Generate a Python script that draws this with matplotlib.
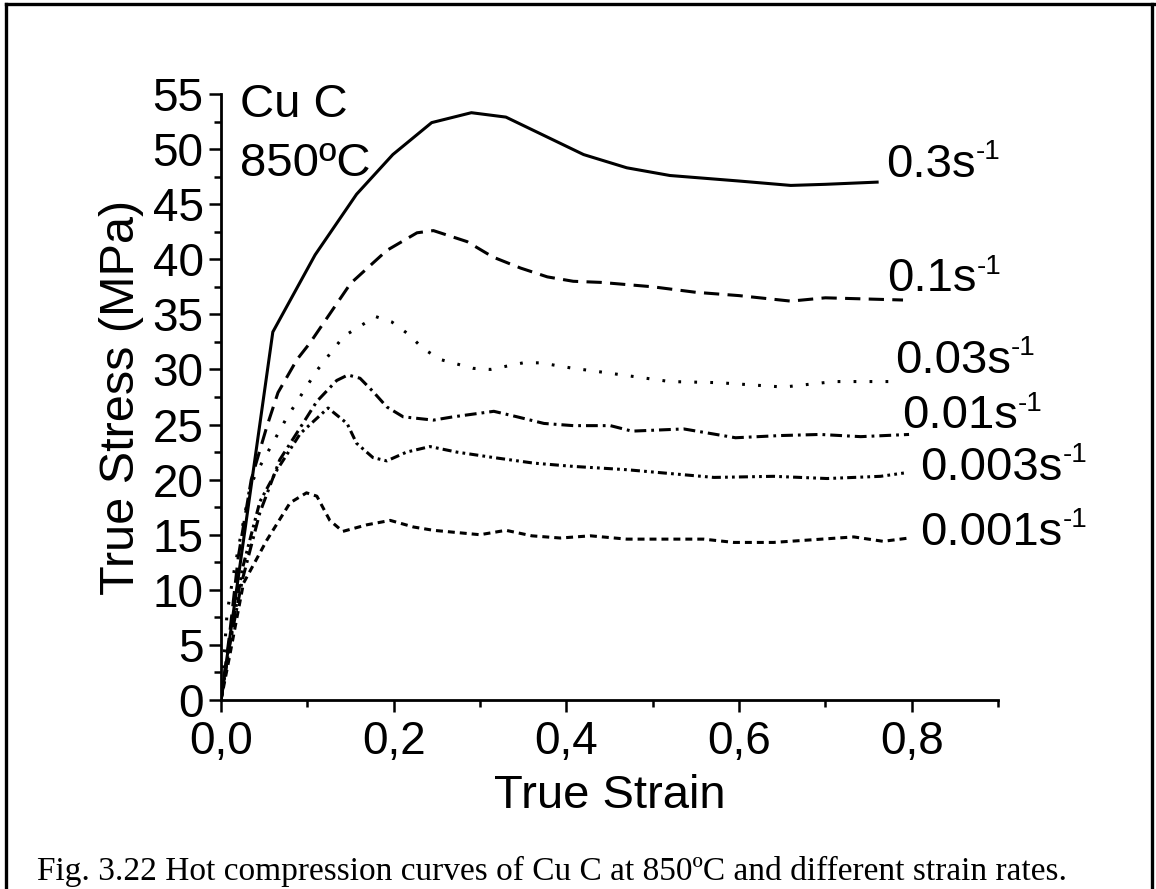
import matplotlib
matplotlib.use('Agg')
import matplotlib.pyplot as plt
from matplotlib.lines import Line2D
from matplotlib.ticker import FixedLocator, MultipleLocator, FuncFormatter

plt.rcParams['font.family'] = ['Liberation Sans', 'DejaVu Sans']
plt.rcParams['lines.scale_dashes'] = False

# strain / stress (MPa)
strain_03 = [0, 0.06, 0.109, 0.157, 0.199, 0.244, 0.29, 0.33, 0.42, 0.47, 0.52, 0.6, 0.66, 0.7, 0.76]
stress_03 = [0, 33.4, 40.4, 45.9, 49.5, 52.4, 53.3, 52.9, 49.5, 48.3, 47.6, 47.1, 46.7, 46.8, 47.0]

strain_01 = [0, 0.01, 0.02, 0.035, 0.053, 0.066, 0.088, 0.103, 0.15, 0.192, 0.227, 0.246, 0.285,
             0.315, 0.347, 0.378, 0.408, 0.44, 0.5, 0.55, 0.6, 0.66, 0.7, 0.79]
stress_01 = [0, 6, 13, 20, 24.8, 27.9, 30.9, 32.4, 37.8, 40.8, 42.4, 42.6, 41.6,
             40.2, 39.2, 38.4, 38.0, 37.9, 37.5, 37.0, 36.7, 36.2, 36.5, 36.3]

strain_003 = [0, 0.007, 0.016, 0.034, 0.045, 0.076, 0.111, 0.142, 0.179, 0.198, 0.217, 0.234, 0.254,
              0.292, 0.312, 0.35, 0.37, 0.408, 0.428, 0.52, 0.576, 0.652, 0.71, 0.787]
stress_003 = [0, 7.9, 12.1, 19.5, 21.2, 25.6, 29.9, 33.0, 34.8, 34.3, 33.2, 31.9, 30.9,
              30.1, 30.0, 30.6, 30.6, 30.1, 29.9, 28.9, 28.8, 28.4, 28.9, 28.9]

strain_001 = [0, 0.01, 0.025, 0.045, 0.068, 0.09, 0.111, 0.134, 0.147, 0.161, 0.176, 0.192, 0.211,
              0.246, 0.269, 0.316, 0.343, 0.374, 0.408, 0.451, 0.476, 0.536, 0.596, 0.648, 0.694,
              0.741, 0.797]
stress_001 = [0, 5, 11, 17, 21.8, 24.5, 27.1, 29.0, 29.5, 29.2, 28.0, 26.6, 25.7,
              25.4, 25.7, 26.2, 25.7, 25.1, 24.9, 24.9, 24.4, 24.6, 23.8, 24.0, 24.1,
              23.9, 24.1]

strain_0003 = [0, 0.01, 0.025, 0.045, 0.065, 0.092, 0.124, 0.146, 0.157, 0.176, 0.192, 0.215, 0.242,
               0.273, 0.316, 0.362, 0.408, 0.47, 0.571, 0.64, 0.702, 0.764, 0.791]
stress_0003 = [0, 5, 12, 18, 20.9, 24.2, 26.5, 25.1, 23.3, 22.0, 21.7, 22.5, 23.0,
               22.5, 22.0, 21.5, 21.2, 20.9, 20.2, 20.3, 20.1, 20.3, 20.6]

strain_0001 = [0, 0.01, 0.026, 0.053, 0.08, 0.099, 0.111, 0.126, 0.141, 0.169, 0.196, 0.223, 0.246,
               0.3, 0.33, 0.36, 0.393, 0.428, 0.47, 0.559, 0.594, 0.64, 0.733, 0.767, 0.797]
stress_0001 = [0, 4, 10.6, 14.5, 17.9, 18.8, 18.5, 16.3, 15.3, 15.9, 16.3, 15.7, 15.4,
               15.0, 15.4, 14.9, 14.7, 14.9, 14.6, 14.6, 14.3, 14.3, 14.8, 14.4, 14.7]

rate_labels = ['0.3', '0.1', '0.03', '0.01', '0.003', '0.001']
label_pos = [(0.77, 47.5), (0.772, 37.1), (0.781, 29.7), (0.789, 24.7), (0.81, 20.0), (0.81, 14.1)]

fig = plt.figure(figsize=(11.56, 8.89), dpi=100)
ax = fig.add_axes([0.1912, 0.2126, 0.6721, 0.6817])

lw = 2.2
ax.plot(strain_03, stress_03, color='black', lw=lw)
ax.plot(strain_01, stress_01, color='black', lw=lw, dashes=(11, 6))
ax.plot(strain_003, stress_003, color='black', lw=lw, dashes=(2, 9.5))
ax.plot(strain_001, stress_001, color='black', lw=lw, dashes=(8.5, 3.6, 2, 3.6))
ax.plot(strain_0003, stress_0003, color='black', lw=lw, dashes=(6.5, 3, 2, 3, 2, 3))
ax.plot(strain_0001, stress_0001, color='black', lw=lw, dashes=(5, 3.6))

# rate labels with a small "-1" superscript (plain hyphen, as in the original)
for r, (x, y) in zip(rate_labels, label_pos):
    t = ax.text(x, y, r + 's', fontsize=34, va='baseline', ha='left', clip_on=False)
    ax.annotate('-1', xy=(1.0, 0.62), xycoords=t, fontsize=20, va='baseline', ha='left',
                annotation_clip=False)

ax.text(0.022, 52.9, 'Cu C', fontsize=34, va='baseline')
ax.text(0.022, 47.6, '850ºC', fontsize=34, va='baseline')

ax.set_xlim(0, 0.9)
ax.set_ylim(0, 55)
ax.xaxis.set_major_locator(FixedLocator([0, 0.2, 0.4, 0.6, 0.8]))
ax.xaxis.set_minor_locator(FixedLocator([0.1, 0.3, 0.5, 0.7, 0.9]))
ax.xaxis.set_major_formatter(FuncFormatter(lambda v, p: f'{v:.1f}'.replace('.', ',')))
ax.yaxis.set_major_locator(MultipleLocator(5))
ax.yaxis.set_minor_locator(MultipleLocator(2.5))

for s in ['top', 'right']:
    ax.spines[s].set_visible(False)
for s in ['left', 'bottom']:
    ax.spines[s].set_linewidth(2)

ax.tick_params(which='major', direction='out', length=8.6, width=1.8, labelsize=33)
ax.tick_params(axis='x', which='major', pad=6)
ax.tick_params(axis='y', which='major', pad=4)
ax.tick_params(which='minor', direction='out', length=5, width=1.8)

ax.set_xlabel('True Strain', fontsize=34, va='baseline')
ax.xaxis.set_label_coords(0.5, -0.178)
ax.set_ylabel('True Stress (MPa)', fontsize=35, labelpad=6)

fig.text(552 / 1156, 1 - 880 / 889, 'Fig. 3.22 Hot compression curves of Cu C at 850ºC and different strain rates.',
         fontsize=24, family='Liberation Serif', ha='center', va='baseline')

# page frame around the figure
for xs, ys in [([6 / 1156, 6 / 1156], [0, 1 - 4 / 889]),
               ([6 / 1156, 1], [1 - 4 / 889, 1 - 4 / 889]),
               ([1152 / 1156, 1152 / 1156], [0, 1 - 4 / 889])]:
    fig.add_artist(Line2D(xs, ys, color='black', lw=2.4, transform=fig.transFigure))

fig.savefig('out.png', dpi=100)
